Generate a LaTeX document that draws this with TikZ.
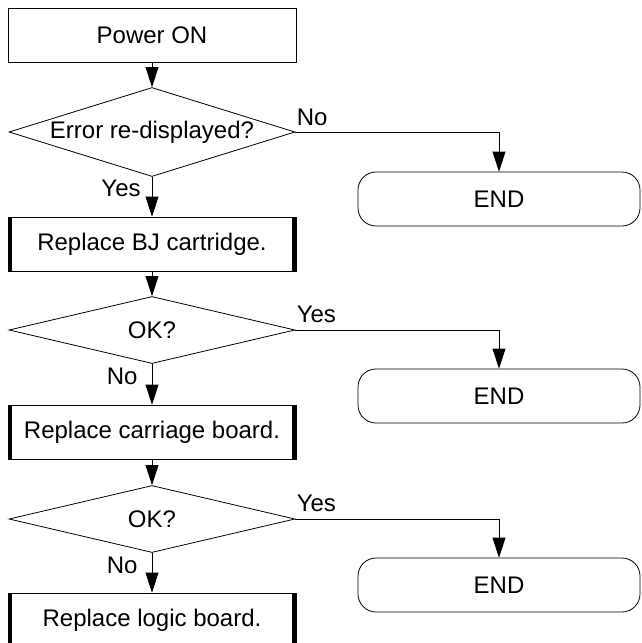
\documentclass[tikz,border=0pt]{standalone}
\usepackage{fontspec}
\setmainfont{Liberation Sans}
\usetikzlibrary{shapes.geometric}
\usetikzlibrary{arrows.meta}

\begin{document}
\begin{tikzpicture}[
		x=1pt,
		y=-1pt,
		every node/.style={
				font=\fontsize{24}{28}\selectfont
			},
		proc/.style={
				draw,
				line width=0.8pt,
				minimum width=288pt,
				minimum height=54pt,
				inner sep=0pt
			},
		decide/.style={
				draw,
				diamond,
				line width=0.8pt,
				inner sep=0pt,
				minimum width=286pt
			},
		endbox/.style={
				draw,
				line width=0.8pt,
				rounded corners=18pt,
				minimum width=282pt,
				minimum height=54pt
			},
		flow/.style={-{Triangle[width=13pt, length=20pt]}, line width=0.8pt},
		lbl/.style={inner sep=1pt}
	]
		\useasboundingbox (0, 0) rectangle (641, 643);

		\node[proc] (power) at (152, 35) {Power ON};
		\node[decide, minimum height=89pt, aspect=3.2] (q1) at (152, 132) {Error re-displayed?};
		\node[proc] (bj) at (152, 244) {Replace BJ cartridge.};
		\node[decide, minimum height=67pt, aspect=4.3] (q2) at (152, 330) {OK?};
		\node[proc] (carr) at (152, 432) {Replace carriage board.};
		\node[decide, minimum height=67pt, aspect=4.3] (q3) at (152, 519) {OK?};
		\node[proc] (logic) at (152, 620) {Replace logic board.};

		\node[endbox] (end1) at (499, 199) {END};
		\node[endbox] (end2) at (499, 396) {END};
		\node[endbox] (end3) at (499, 585) {END};

		% heavy side bars of the replace steps
		\foreach \b in {bj, carr, logic} {
				\draw[line width=4pt] ([xshift=2pt]\b.north west) -- ([xshift=2pt]\b.south west);
				\draw[line width=4pt] ([xshift=-2.5pt]\b.north east) -- ([xshift=-2.5pt]\b.south east);
			}

		\draw[flow] (power.south) -- (q1.north);
		\draw[flow] (q1.south) -- (bj.north) node[lbl, pos=0, anchor=north east, xshift=-10pt, yshift=-2pt] {Yes};
		\draw[flow] (q1.east) -| (end1.north) node[lbl, pos=0, anchor=south west, yshift=5pt] {No};

		\draw[flow] (bj.south) -- (q2.north);
		\draw[flow] (q2.south) -- (carr.north) node[lbl, pos=0, anchor=north east, xshift=-13pt, yshift=-3pt] {No};
		\draw[flow] (q2.east) -| (end2.north) node[lbl, pos=0, anchor=south west, yshift=6pt] {Yes};

		\draw[flow] (carr.south) -- (q3.north);
		\draw[flow] (q3.south) -- (logic.north) node[lbl, pos=0, anchor=north east, xshift=-13pt, yshift=-3pt] {No};
		\draw[flow] (q3.east) -| (end3.north) node[lbl, pos=0, anchor=south west, yshift=6pt] {Yes};
	\end{tikzpicture}
\end{document}
